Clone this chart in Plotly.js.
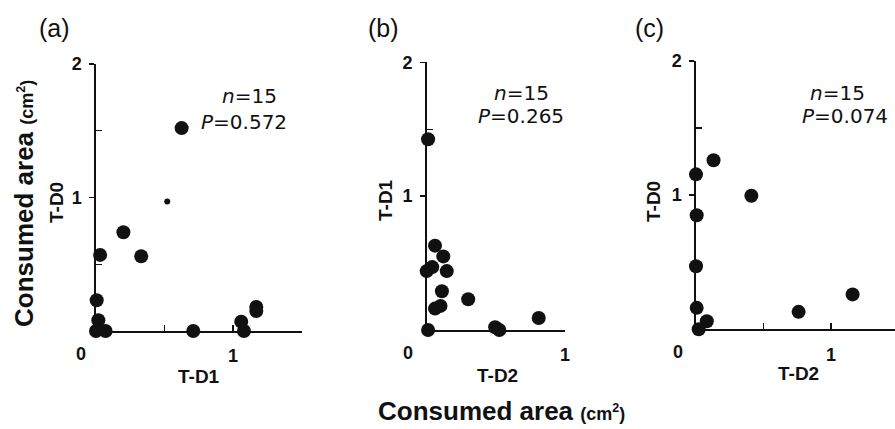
<!DOCTYPE html>
<html>
<head>
<meta charset="utf-8">
<script src="https://cdn.plot.ly/plotly-3.0.1.min.js"></script>
<style>html,body{margin:0;padding:0;background:#fff;}#chart{width:895px;height:429px;}</style>
</head>
<body>
<div id="chart"></div>
<script>
// Panel (a): T-D1 (x) vs T-D0 (y)
const aX = [0.625, 0.20, 0.33, 0.03, 0.005, 0.017, 0.0, 0.07, 0.71, 1.06, 1.08, 1.17, 1.17];
const aY = [1.52, 0.74, 0.56, 0.57, 0.23, 0.08, 0.0, 0.0, 0.0, 0.07, 0.0, 0.18, 0.15];
// faint partially printed mark in panel (a)
const aGhostX = [0.52];
const aGhostY = [0.97];
// Panel (b): T-D2 (x) vs T-D1 (y)
const bX = [0.01, 0.06, 0.12, 0.04, 0.0, 0.145, 0.11, 0.30, 0.10, 0.06, 0.01, 0.495, 0.525, 0.81];
const bY = [1.425, 0.63, 0.55, 0.47, 0.44, 0.44, 0.29, 0.23, 0.18, 0.16, 0.0, 0.02, 0.0, 0.09];
// Panel (c): T-D2 (x) vs T-D0 (y)
const cX = [0.13, 0.0, 0.41, 0.005, 0.0, 0.005, -0.01, 0.08, 0.02, 0.76, 1.16];
const cY = [1.26, 1.155, 0.995, 0.85, 0.47, 0.16, 0.10, 0.06, 0.0, 0.13, 0.26];

const panelLabels = ['(a)', '(b)', '(c)'];
const nLabels = ['<i>n</i>=15', '<i>n</i>=15', '<i>n</i>=15'];
const pLabels = ['<i>P</i>=0.572', '<i>P</i>=0.265', '<i>P</i>=0.074'];
const xTitles = ['T-D1', 'T-D2', 'T-D2'];
const yTitles = ['T-D0', 'T-D1', 'T-D0'];
const yTickVals = [1, 2];
const yTickText = ['1', '2'];
const xTickVals = [1];
const xTickText = ['1'];

const W = 895, H = 429;
const px = v => v / W;
const py = v => 1 - v / H;
const FONT = 'Liberation Sans, Arial, Helvetica, sans-serif';
const FONT2 = 'DejaVu Sans, Verdana, sans-serif';
const INK = '#111';
const bold = arr => arr.map(t => '<b>' + t + '</b>');

const mk = {color: INK, size: 14, line: {width: 0}};
const traces = [
  {x: aX, y: aY, xaxis: 'x', yaxis: 'y', type: 'scatter', mode: 'markers', marker: mk, cliponaxis: false},
  {x: aGhostX, y: aGhostY, xaxis: 'x', yaxis: 'y', type: 'scatter', mode: 'markers', marker: {color: INK, size: 6, symbol: 'circle'}, cliponaxis: false},
  {x: bX, y: bY, xaxis: 'x2', yaxis: 'y2', type: 'scatter', mode: 'markers', marker: mk, cliponaxis: false},
  {x: cX, y: cY, xaxis: 'x3', yaxis: 'y3', type: 'scatter', mode: 'markers', marker: mk, cliponaxis: false}
];

function xAx(dom, rng, anchor, minorVals) {
  return {
    domain: dom, range: rng, anchor: anchor, showgrid: false, zeroline: false,
    showline: true, linecolor: INK, linewidth: 1.6,
    tickmode: 'array', tickvals: xTickVals, ticktext: bold(xTickText),
    ticks: 'inside', ticklen: 6, tickwidth: 1.4, tickcolor: INK,
    ticklabelstandoff: 8,
    tickfont: {family: FONT, size: 18, color: INK},
    minor: {tickmode: 'array', tickvals: minorVals, ticks: 'inside', ticklen: 6, tickwidth: 1.4, tickcolor: INK, showgrid: false},
    fixedrange: true
  };
}
function yAx(dom, anchor) {
  return {
    domain: dom, range: [0, 2], anchor: anchor, showgrid: false, zeroline: false,
    showline: true, linecolor: INK, linewidth: 1.6,
    tickmode: 'array', tickvals: yTickVals, ticktext: bold(yTickText),
    ticks: 'outside', ticklen: 5, tickwidth: 1.4, tickcolor: INK,
    ticklabelstandoff: 4,
    tickfont: {family: FONT, size: 18, color: INK},
    minor: {tickmode: 'array', tickvals: [0.5, 1.5], ticks: 'inside', ticklen: 6, tickwidth: 1.4, tickcolor: INK, showgrid: false},
    fixedrange: true
  };
}

const annotations = [];
function ann(text, x, y, size, opts, family) {
  annotations.push(Object.assign({
    text: text, xref: 'paper', yref: 'paper', x: px(x), y: py(y),
    xanchor: 'center', yanchor: 'middle', showarrow: false,
    font: {family: family || FONT, size: size, color: INK}
  }, opts || {}));
}
// panel letters
[[54, 28], [383, 28], [649, 28]].forEach((p, i) => ann(panelLabels[i], p[0], p[1], 25));
// n / P labels
[[250, 96, 244, 122], [521, 93, 521, 116], [837, 93, 845, 116]].forEach((p, i) => {
  ann(nLabels[i], p[0], p[1], 20, null, FONT2);
  ann(pLabels[i], p[2], p[3], 20, null, FONT2);
});
// axis titles
[[199, 376], [497, 375], [798, 373]].forEach((p, i) => ann('<b>' + xTitles[i] + '</b>', p[0], p[1], 19));
[[56, 203], [385, 200], [653, 202]].forEach((p, i) => ann('<b>' + yTitles[i] + '</b>', p[0], p[1], 19, {textangle: -90}));
// "0" corner labels
[[81, 354], [408, 353], [678, 352]].forEach(p => ann('<b>0</b>', p[0], p[1], 18));
// shared titles
const bigTitle = '<b>Consumed area</b> <b><span style="font-size:18px">(cm<sup>2</sup>)</span></b>';
ann(bigTitle, 501, 411, 26);
ann(bigTitle, 24, 204, 26, {textangle: -90});

const layout = {
  width: W, height: H, margin: {l: 0, r: 0, t: 0, b: 0},
  paper_bgcolor: '#fff', plot_bgcolor: 'rgba(0,0,0,0)', showlegend: false,
  xaxis: xAx([px(96), px(301.5)], [0, 1.5], 'y', [0.5, 1.5]),
  yaxis: yAx([1 - 331 / H, 1 - 64 / H], 'x'),
  xaxis2: xAx([px(426.7), px(565)], [0, 1], 'y2', [0.5]),
  yaxis2: yAx([1 - 330 / H, 1 - 62.3 / H], 'x2'),
  xaxis3: xAx([px(696), 1], [0, (895 - 696) / 135], 'y3', [0.5]),
  yaxis3: yAx([1 - 329.3 / H, 1 - 61 / H], 'x3'),
  annotations: annotations
};
Plotly.newPlot('chart', traces, layout, {staticPlot: true, displayModeBar: false});
</script>
</body>
</html>
